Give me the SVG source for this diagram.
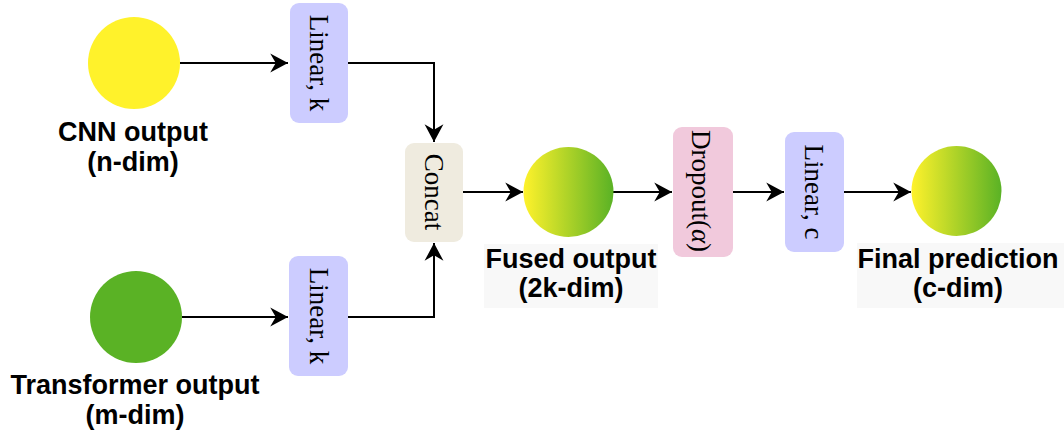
<svg xmlns="http://www.w3.org/2000/svg" width="1064" height="437" viewBox="0 0 1064 437">
<style>
.lbl{font-family:"Liberation Sans",Arial,sans-serif;font-weight:bold;font-size:27px;fill:#000;text-anchor:middle}
.box{font-family:"Liberation Serif","Times New Roman",serif;font-size:27px;fill:#000;text-anchor:middle}
.edge{fill:none;stroke:#000;stroke-width:2}
.lin{fill:#CCCCFF}
</style>
<defs>
<linearGradient id="yg" x1="0" y1="0" x2="1" y2="0">
<stop offset="0" stop-color="#FFF22B"/>
<stop offset="1" stop-color="#5AB225"/>
</linearGradient>
<marker id="arr" markerUnits="userSpaceOnUse" markerWidth="20" markerHeight="20" viewBox="-17 -9 18 18" refX="0" refY="0" orient="auto">
<path d="M0,0 L-16,-8.5 L-11,0 L-16,8.5 Z" fill="#000"/>
</marker>
</defs>
<rect width="1064" height="437" fill="#fff"/>
<g id="connectors">
<path class="edge" d="M180,63 L288,63" marker-end="url(#arr)"/>
<path class="edge" d="M348,63 L434,63 L434,142" marker-end="url(#arr)"/>
<path class="edge" d="M182,317 L288,317" marker-end="url(#arr)"/>
<path class="edge" d="M348,317 L434,317 L434,243" marker-end="url(#arr)"/>
<path class="edge" d="M463,192 L523,192" marker-end="url(#arr)"/>
<path class="edge" d="M613,192 L672,192" marker-end="url(#arr)"/>
<path class="edge" d="M733,192 L784,192" marker-end="url(#arr)"/>
<path class="edge" d="M844,192 L911,192" marker-end="url(#arr)"/>
</g>
<g id="cnn">
<circle cx="134" cy="63" r="46" fill="#FFF22B"/>
<text class="lbl" x="133" y="141">CNN output</text>
<text class="lbl" x="133" y="171">(n-dim)</text>
</g>
<g id="transformer">
<circle cx="136" cy="317" r="46" fill="#5AB225"/>
<text class="lbl" x="135" y="394">Transformer output</text>
<text class="lbl" x="135" y="424">(m-dim)</text>
</g>
<g id="linear-k-top">
<rect class="lin" x="290" y="3" width="58" height="120" rx="9"/>
<text class="box" transform="translate(310,63) rotate(90)">Linear, k</text>
</g>
<g id="linear-k-bottom">
<rect class="lin" x="289" y="256" width="59" height="120" rx="9"/>
<text class="box" transform="translate(310,316) rotate(90)">Linear, k</text>
</g>
<g id="concat">
<rect x="405" y="143" width="58" height="99" rx="9" fill="#EFEBDF"/>
<text class="box" transform="translate(425,192) rotate(90)">Concat</text>
</g>
<g id="fused">
<circle cx="568.5" cy="192" r="45" fill="url(#yg)"/>
<rect x="484" y="244" width="174" height="64" fill="#F8F8F8"/>
<text class="lbl" x="571" y="268">Fused output</text>
<text class="lbl" x="571" y="297">(2k-dim)</text>
</g>
<g id="dropout">
<rect x="673" y="127" width="60" height="130" rx="9" fill="#F1C9DC"/>
<text class="box" transform="translate(692,191) rotate(90)">Dropout(<tspan font-style="italic">α</tspan>)</text>
</g>
<g id="linear-c">
<rect class="lin" x="785" y="132" width="59" height="120" rx="9"/>
<text class="box" transform="translate(805,192) rotate(90)">Linear, c</text>
</g>
<g id="final">
<circle cx="956.5" cy="191" r="45" fill="url(#yg)"/>
<rect x="857" y="243" width="207" height="65" fill="#F8F8F8"/>
<text class="lbl" x="958" y="268">Final prediction</text>
<text class="lbl" x="958" y="297">(c-dim)</text>
</g>
</svg>
